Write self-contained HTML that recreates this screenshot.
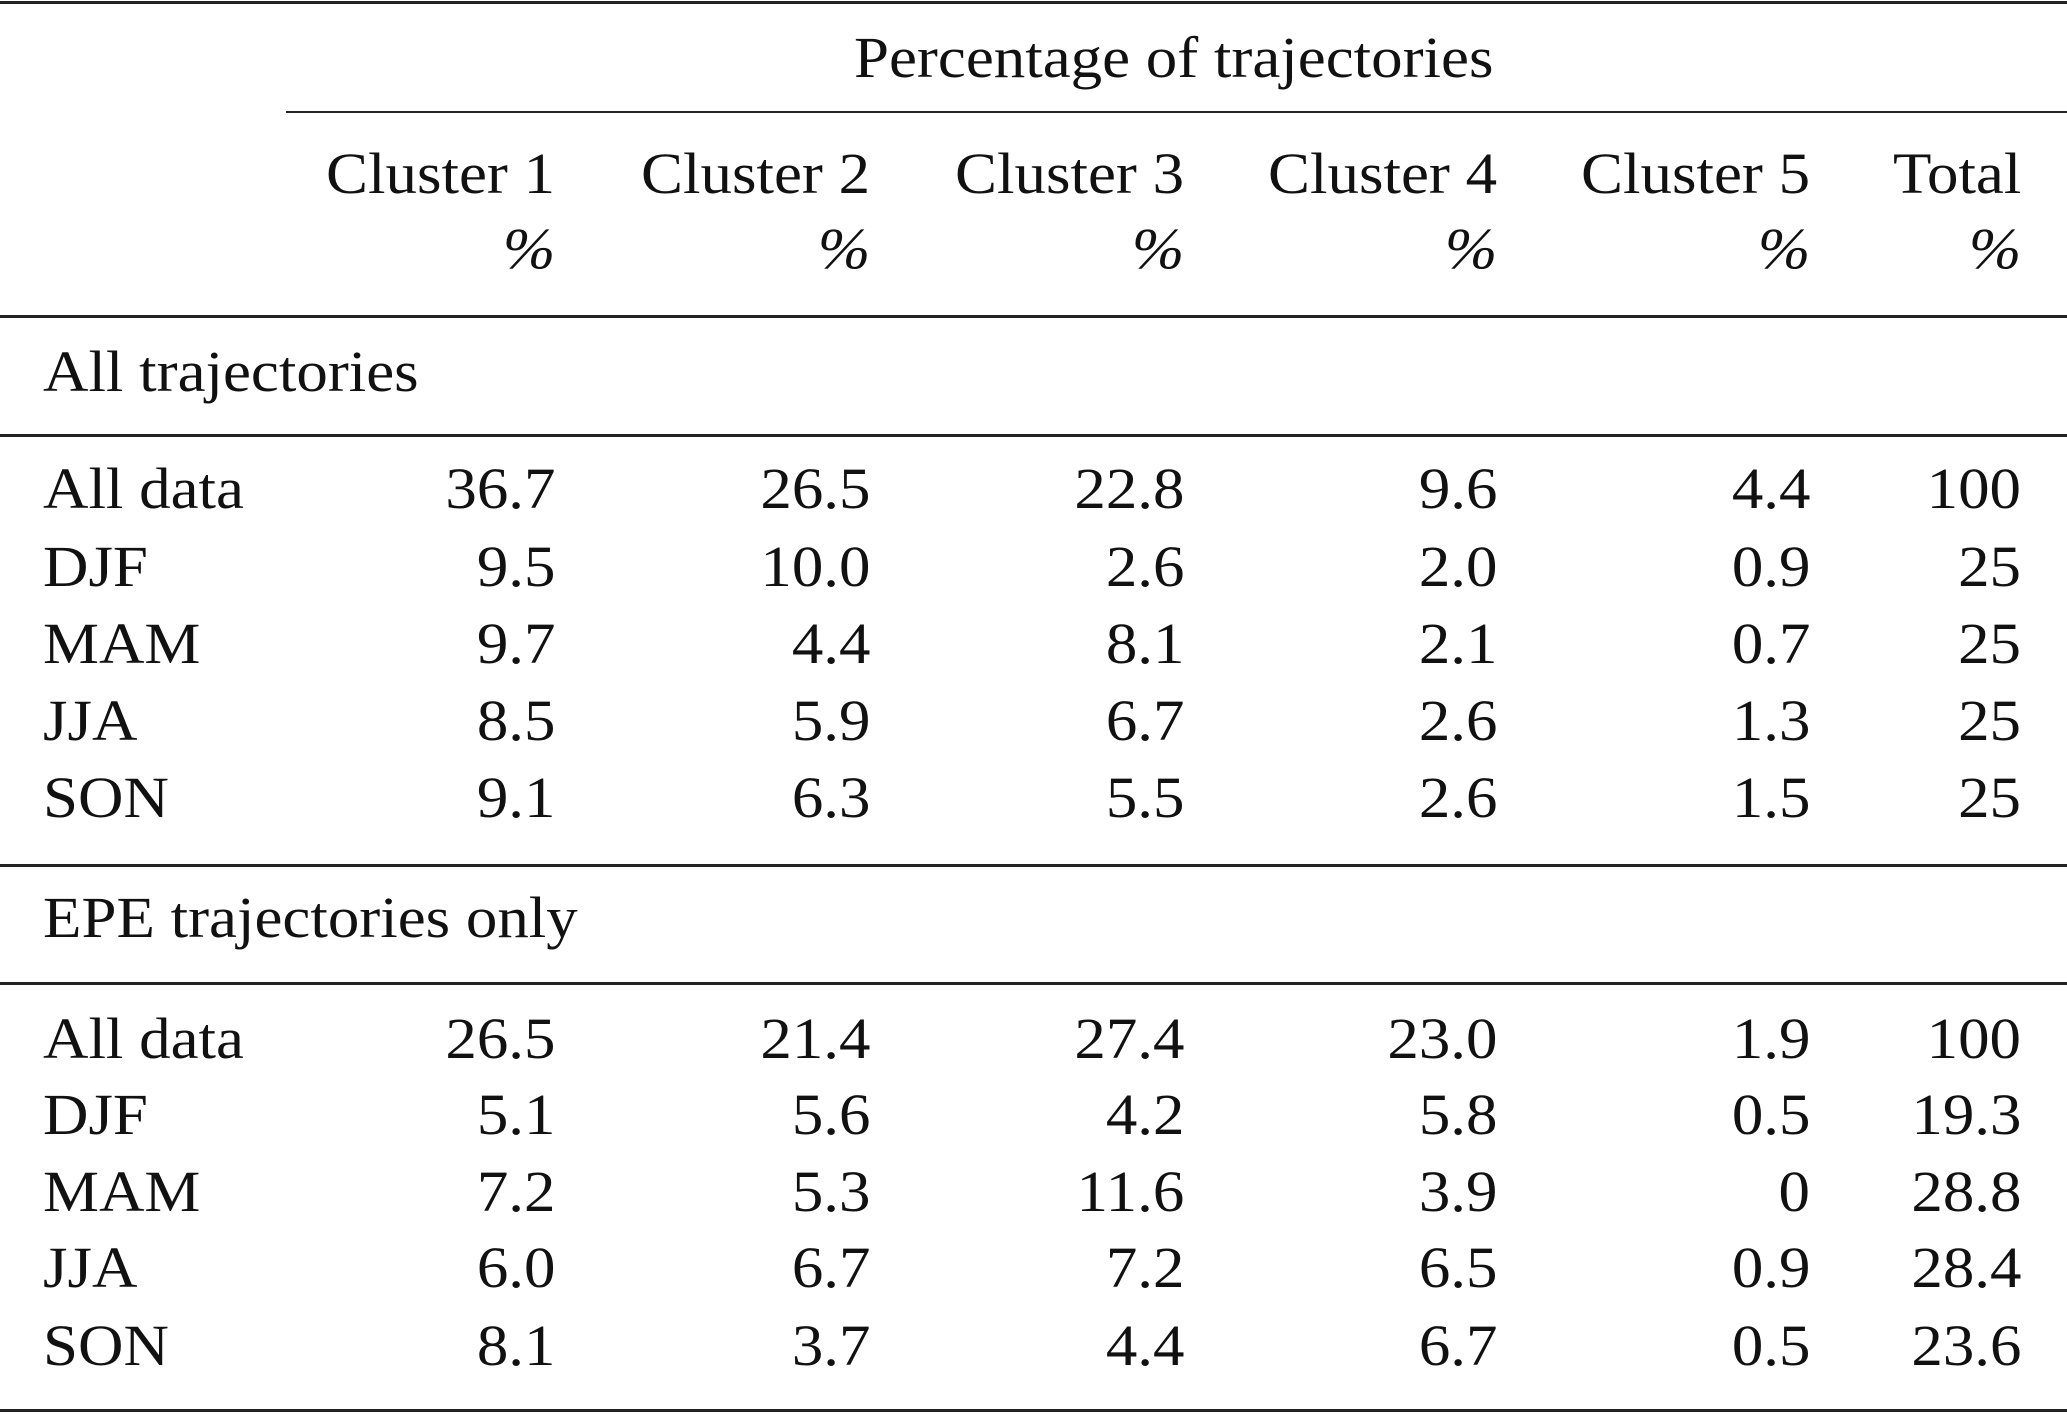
<!DOCTYPE html>
<html><head><meta charset="utf-8"><style>
body{margin:0;width:2067px;height:1414px;background:#fff;position:relative;overflow:hidden;font-family:"Liberation Serif",serif;color:#111}
.t{position:absolute;font-size:58px;line-height:70px;white-space:nowrap;transform:scaleX(1.085);transform-origin:left center}
.r{text-align:right;transform-origin:right center}
.l{position:absolute;background:#222;left:0;width:2067px}
i{font-style:italic}
</style></head><body>
<div class="l" style="top:1px;height:3px"></div>
<div class="l" style="top:111px;height:2px;left:286px;width:1781px"></div>
<div class="l" style="top:315px;height:3px"></div>
<div class="l" style="top:434px;height:3px"></div>
<div class="l" style="top:864px;height:3px"></div>
<div class="l" style="top:982px;height:3px"></div>
<div class="l" style="top:1409px;height:3px"></div>
<div class="t" style="top:23px;left:854px">Percentage of trajectories</div>
<div id="c"></div>
<script>
var cols=[555,870,1184,1497,1810,2021];
var hdr=["Cluster 1","Cluster 2","Cluster 3","Cluster 4","Cluster 5","Total"];
var h="";
function cell(txt,right,cy){return '<div class="t r" style="top:'+(cy-36)+'px;right:'+(2067-right)+'px">'+txt+'</div>';}
function lab(txt,cy){return '<div class="t" style="top:'+(cy-36)+'px;left:43px">'+txt+'</div>';}
hdr.forEach(function(s,i){h+=cell(s,cols[i],175);h+=cell('<i>%</i>',cols[i],250);});
h+=lab("All trajectories",373);
h+=lab("EPE trajectories only",919);
var A=[["All data","36.7","26.5","22.8","9.6","4.4","100"],["DJF","9.5","10.0","2.6","2.0","0.9","25"],["MAM","9.7","4.4","8.1","2.1","0.7","25"],["JJA","8.5","5.9","6.7","2.6","1.3","25"],["SON","9.1","6.3","5.5","2.6","1.5","25"]];
var B=[["All data","26.5","21.4","27.4","23.0","1.9","100"],["DJF","5.1","5.6","4.2","5.8","0.5","19.3"],["MAM","7.2","5.3","11.6","3.9","0","28.8"],["JJA","6.0","6.7","7.2","6.5","0.9","28.4"],["SON","8.1","3.7","4.4","6.7","0.5","23.6"]];
var ya=[490,568,645,722,799],yb=[1040,1116,1193,1269,1347];
function rows(R,Y){R.forEach(function(r,k){h+=lab(r[0],Y[k]);for(var j=1;j<7;j++)h+=cell(r[j],cols[j-1],Y[k]);});}
rows(A,ya);rows(B,yb);
document.getElementById("c").innerHTML=h;
</script>
</body></html>
